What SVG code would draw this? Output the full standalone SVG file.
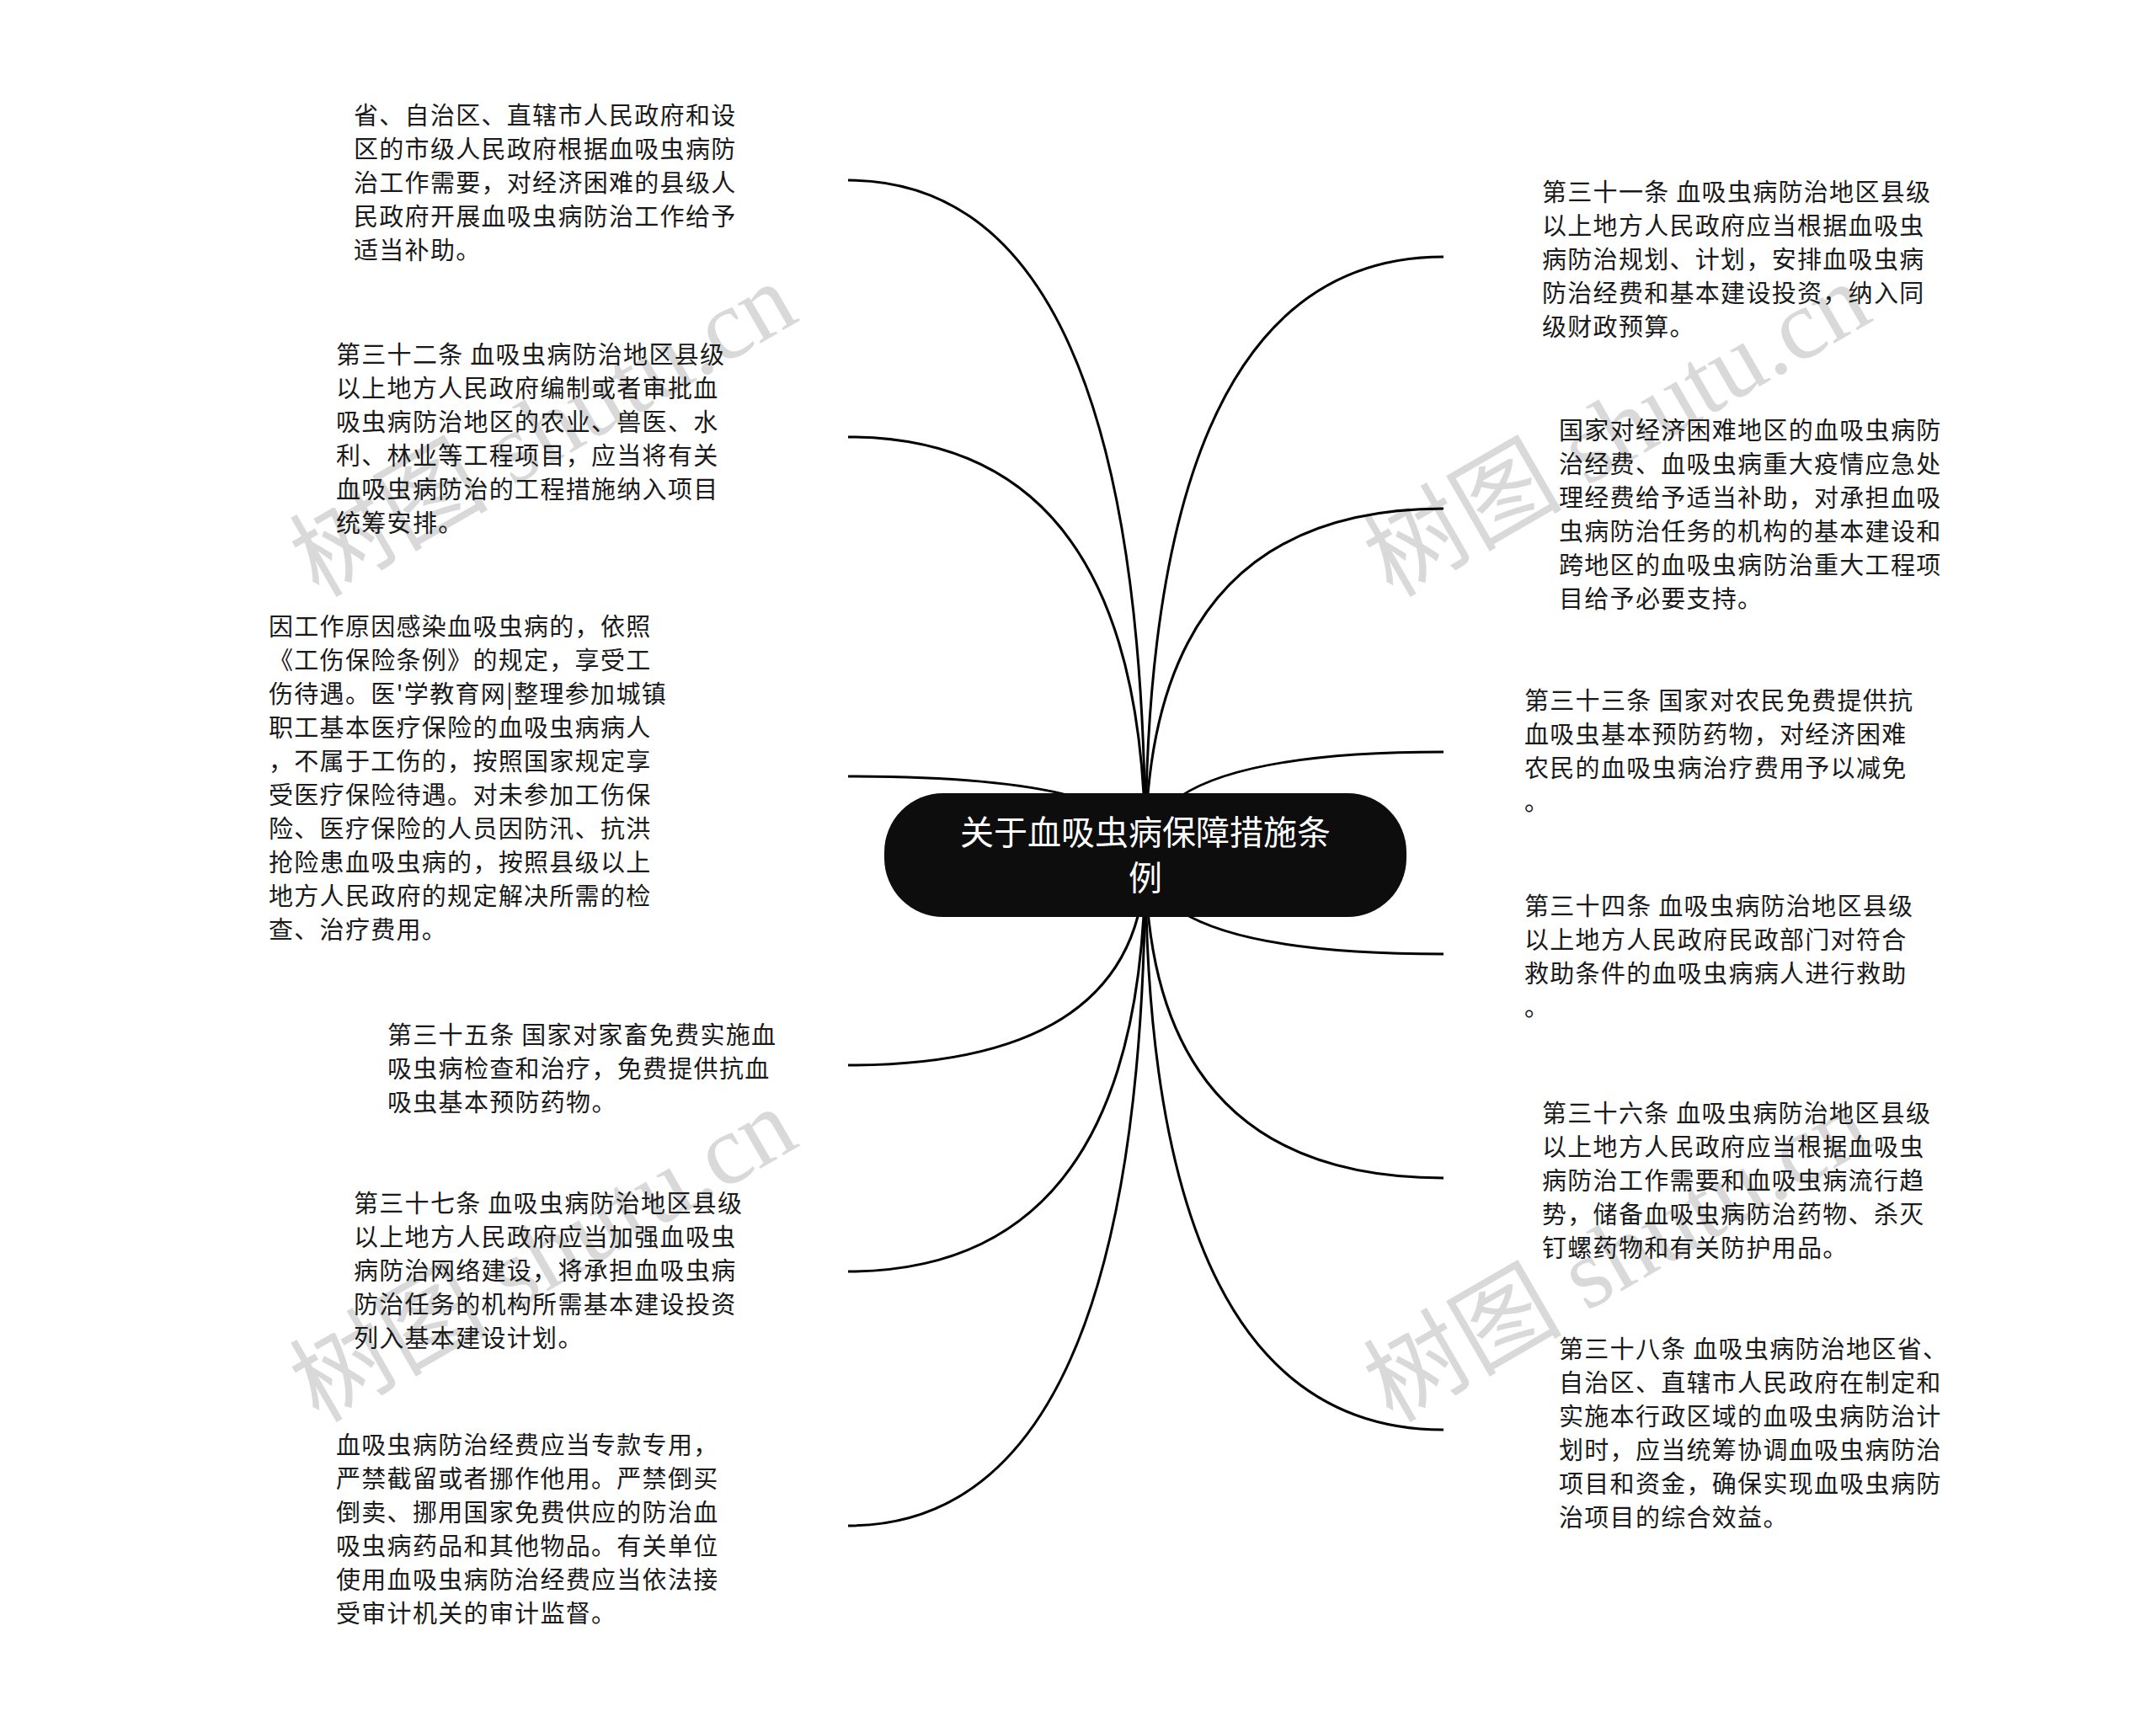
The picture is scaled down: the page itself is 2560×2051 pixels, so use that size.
<svg xmlns="http://www.w3.org/2000/svg" width="2560" height="2051" viewBox="0 0 2560 2051">
<style>
.t{font-family:"Noto Sans CJK SC","Noto Sans",sans-serif;font-size:29px;letter-spacing:1.3px;fill:#1a1a1a;dominant-baseline:central}
.c{font-family:"Noto Sans CJK SC","Noto Sans",sans-serif;font-size:40px;fill:#fff;text-anchor:middle;dominant-baseline:central}
.w{font-family:"Liberation Serif","Noto Sans CJK SC",serif;font-size:118px;fill:#d0d0d0;opacity:0.8;text-anchor:middle}
.ln{fill:none;stroke:#000;stroke-width:3}
</style>
<rect width="2560" height="2051" fill="#fff"/>
<g id="watermarks">
<text class="w" transform="translate(665,545) rotate(-30)">树图 shutu.cn</text>
<text class="w" transform="translate(1940,545) rotate(-30)">树图 shutu.cn</text>
<text class="w" transform="translate(665,1525) rotate(-30)">树图 shutu.cn</text>
<text class="w" transform="translate(1940,1525) rotate(-30)">树图 shutu.cn</text>
</g>
<g id="connectors">
<path class="ln" d="M1360,1015 Q1360,214 1007,214"/>
<path class="ln" d="M1360,1015 Q1360,519 1007,519"/>
<path class="ln" d="M1360,1015 Q1360,922 1007,922"/>
<path class="ln" d="M1360,1015 Q1360,1265 1007,1265"/>
<path class="ln" d="M1360,1015 Q1360,1510 1007,1510"/>
<path class="ln" d="M1360,1015 Q1360,1812 1007,1812"/>
<path class="ln" d="M1360,1015 Q1360,305 1714,305"/>
<path class="ln" d="M1360,1015 Q1360,604 1714,604"/>
<path class="ln" d="M1360,1015 Q1360,893 1714,893"/>
<path class="ln" d="M1360,1015 Q1360,1133 1714,1133"/>
<path class="ln" d="M1360,1015 Q1360,1399 1714,1399"/>
<path class="ln" d="M1360,1015 Q1360,1698 1714,1698"/>
</g>
<g id="root">
<rect x="1050" y="942" width="620" height="147" rx="70" ry="70" fill="#0d0d0d"/>
<text class="c" x="1360" y="986">关于血吸虫病保障措施条</text>
<text class="c" x="1360" y="1040">例</text>
</g>
<g id="n-left-1">
<text class="t" x="420" y="135">省、自治区、直辖市人民政府和设</text>
<text class="t" x="420" y="175">区的市级人民政府根据血吸虫病防</text>
<text class="t" x="420" y="215">治工作需要，对经济困难的县级人</text>
<text class="t" x="420" y="255">民政府开展血吸虫病防治工作给予</text>
<text class="t" x="420" y="295">适当补助。</text>
</g>
<g id="n-left-2">
<text class="t" x="399" y="419">第三十二条 血吸虫病防治地区县级</text>
<text class="t" x="399" y="459">以上地方人民政府编制或者审批血</text>
<text class="t" x="399" y="499">吸虫病防治地区的农业、兽医、水</text>
<text class="t" x="399" y="539">利、林业等工程项目，应当将有关</text>
<text class="t" x="399" y="579">血吸虫病防治的工程措施纳入项目</text>
<text class="t" x="399" y="619">统筹安排。</text>
</g>
<g id="n-left-3">
<text class="t" x="319" y="742">因工作原因感染血吸虫病的，依照</text>
<text class="t" x="319" y="782">《工伤保险条例》的规定，享受工</text>
<text class="t" x="319" y="822">伤待遇。医'学教育网|整理参加城镇</text>
<text class="t" x="319" y="862">职工基本医疗保险的血吸虫病病人</text>
<text class="t" x="319" y="902">，不属于工伤的，按照国家规定享</text>
<text class="t" x="319" y="942">受医疗保险待遇。对未参加工伤保</text>
<text class="t" x="319" y="982">险、医疗保险的人员因防汛、抗洪</text>
<text class="t" x="319" y="1022">抢险患血吸虫病的，按照县级以上</text>
<text class="t" x="319" y="1062">地方人民政府的规定解决所需的检</text>
<text class="t" x="319" y="1102">查、治疗费用。</text>
</g>
<g id="n-left-4">
<text class="t" x="460" y="1227">第三十五条 国家对家畜免费实施血</text>
<text class="t" x="460" y="1267">吸虫病检查和治疗，免费提供抗血</text>
<text class="t" x="460" y="1307">吸虫基本预防药物。</text>
</g>
<g id="n-left-5">
<text class="t" x="420" y="1427">第三十七条 血吸虫病防治地区县级</text>
<text class="t" x="420" y="1467">以上地方人民政府应当加强血吸虫</text>
<text class="t" x="420" y="1507">病防治网络建设，将承担血吸虫病</text>
<text class="t" x="420" y="1547">防治任务的机构所需基本建设投资</text>
<text class="t" x="420" y="1587">列入基本建设计划。</text>
</g>
<g id="n-left-6">
<text class="t" x="399" y="1714">血吸虫病防治经费应当专款专用，</text>
<text class="t" x="399" y="1754">严禁截留或者挪作他用。严禁倒买</text>
<text class="t" x="399" y="1794">倒卖、挪用国家免费供应的防治血</text>
<text class="t" x="399" y="1834">吸虫病药品和其他物品。有关单位</text>
<text class="t" x="399" y="1874">使用血吸虫病防治经费应当依法接</text>
<text class="t" x="399" y="1914">受审计机关的审计监督。</text>
</g>
<g id="n-right-1">
<text class="t" x="1831" y="226">第三十一条 血吸虫病防治地区县级</text>
<text class="t" x="1831" y="266">以上地方人民政府应当根据血吸虫</text>
<text class="t" x="1831" y="306">病防治规划、计划，安排血吸虫病</text>
<text class="t" x="1831" y="346">防治经费和基本建设投资，纳入同</text>
<text class="t" x="1831" y="386">级财政预算。</text>
</g>
<g id="n-right-2">
<text class="t" x="1851" y="509">国家对经济困难地区的血吸虫病防</text>
<text class="t" x="1851" y="549">治经费、血吸虫病重大疫情应急处</text>
<text class="t" x="1851" y="589">理经费给予适当补助，对承担血吸</text>
<text class="t" x="1851" y="629">虫病防治任务的机构的基本建设和</text>
<text class="t" x="1851" y="669">跨地区的血吸虫病防治重大工程项</text>
<text class="t" x="1851" y="709">目给予必要支持。</text>
</g>
<g id="n-right-3">
<text class="t" x="1810" y="830">第三十三条 国家对农民免费提供抗</text>
<text class="t" x="1810" y="870">血吸虫基本预防药物，对经济困难</text>
<text class="t" x="1810" y="910">农民的血吸虫病治疗费用予以减免</text>
<text class="t" x="1810" y="950">。</text>
</g>
<g id="n-right-4">
<text class="t" x="1810" y="1074">第三十四条 血吸虫病防治地区县级</text>
<text class="t" x="1810" y="1114">以上地方人民政府民政部门对符合</text>
<text class="t" x="1810" y="1154">救助条件的血吸虫病病人进行救助</text>
<text class="t" x="1810" y="1194">。</text>
</g>
<g id="n-right-5">
<text class="t" x="1831" y="1320">第三十六条 血吸虫病防治地区县级</text>
<text class="t" x="1831" y="1360">以上地方人民政府应当根据血吸虫</text>
<text class="t" x="1831" y="1400">病防治工作需要和血吸虫病流行趋</text>
<text class="t" x="1831" y="1440">势，储备血吸虫病防治药物、杀灭</text>
<text class="t" x="1831" y="1480">钉螺药物和有关防护用品。</text>
</g>
<g id="n-right-6">
<text class="t" x="1851" y="1600">第三十八条 血吸虫病防治地区省、</text>
<text class="t" x="1851" y="1640">自治区、直辖市人民政府在制定和</text>
<text class="t" x="1851" y="1680">实施本行政区域的血吸虫病防治计</text>
<text class="t" x="1851" y="1720">划时，应当统筹协调血吸虫病防治</text>
<text class="t" x="1851" y="1760">项目和资金，确保实现血吸虫病防</text>
<text class="t" x="1851" y="1800">治项目的综合效益。</text>
</g>
</svg>
